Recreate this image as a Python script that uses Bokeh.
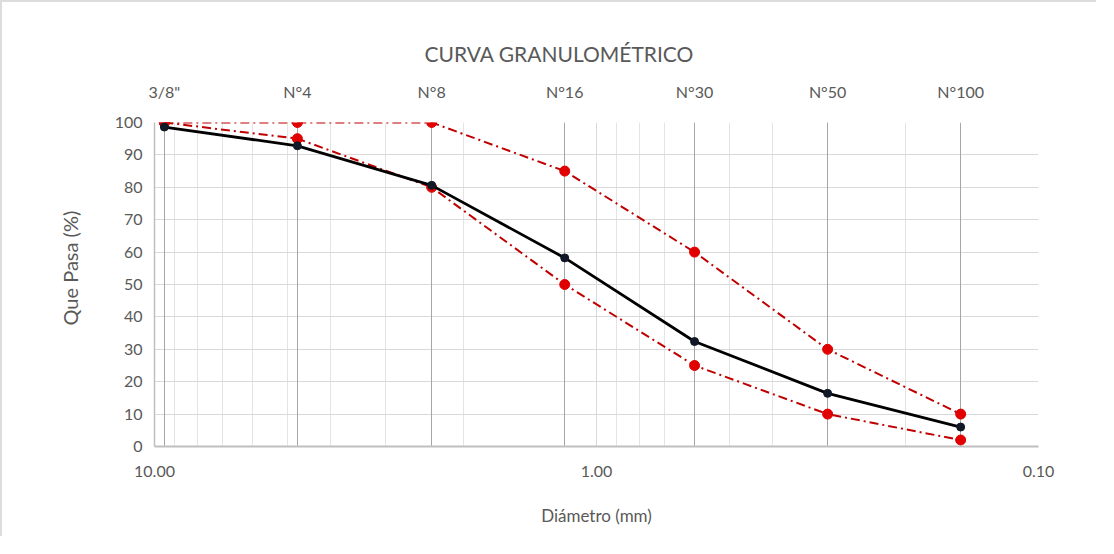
from bokeh.plotting import figure
from bokeh.models import (Range1d, LogAxis, FixedTicker, PrintfTickFormatter,
                          Grid, ColumnDataSource, Title)
from bokeh.embed import file_html
from bokeh.resources import INLINE

# ---- data ----
sieve_labels = ['3/8"', "N°4", "N°8", "N°16", "N°30", "N°50", "N°100"]
sieve_mm = [9.5, 4.75, 2.36, 1.18, 0.6, 0.3, 0.15]
pct_passing = [98.6, 92.8, 80.6, 58.2, 32.4, 16.4, 6.0]
spec_upper = [100, 100, 100, 85, 60, 30, 10]
spec_lower = [100, 95, 80, 50, 25, 10, 2]
x_ticks = [10, 1, 0.1]
y_ticks = list(range(0, 101, 10))

FONT = "Lato"
TXT = "#595959"

minor_x = [m * d for d in (1.0, 0.1) for m in range(2, 10)]

p = figure(width=1096, height=536, x_axis_type="log",
           x_range=Range1d(10, 0.1), y_range=Range1d(0, 100),
           output_backend="svg", toolbar_location=None,
           min_border_left=152, min_border_right=60,
           min_border_top=120, min_border_bottom=92)
p.outline_line_color = None
p.background_fill_color = "white"
p.border_fill_color = "white"
p.styles = {"border-top": "2px solid #dcdcdc", "border-left": "2px solid #dcdcdc"}

p.title.text = "CURVA GRANULOMÉTRICO"
p.title.align = "left"
p.title.offset = 270
p.title.standoff = 26
p.title.text_font = FONT
p.title.text_font_size = "21px"
p.title.text_font_style = "normal"
p.title.text_color = TXT

# bottom axis
xa = p.xaxis[0]
xa.ticker = FixedTicker(ticks=x_ticks, minor_ticks=minor_x)
xa.formatter = PrintfTickFormatter(format="%.2f")
xa.axis_label = "Diámetro (mm)"
xa.major_tick_out = 0
xa.major_tick_in = 0
xa.minor_tick_out = 0
xa.minor_tick_in = 0
xa.axis_line_color = "#bfbfbf"
xa.axis_line_width = 2
xa.major_label_standoff = 19
xa.axis_label_standoff = 25

# left axis (tick labels)
ya = p.yaxis[0]
ya.ticker = FixedTicker(ticks=y_ticks)
ya.major_tick_out = 0
ya.major_tick_in = 0
ya.minor_tick_out = 0
ya.minor_tick_in = 0
ya.axis_line_color = "#bfbfbf"
ya.axis_line_width = 1.5
ya.major_label_standoff = 12

# left axis title, placed like the reference
y_title = Title(text="Que Pasa (%)", align="left", offset=121, standoff=60,
                text_font=FONT, text_font_size="20px",
                text_font_style="normal", text_color=TXT)
p.add_layout(y_title, "left")

# top axis with sieve names
ta = LogAxis(ticker=FixedTicker(ticks=sieve_mm),
             major_label_overrides={v: l for v, l in zip(sieve_mm, sieve_labels)})
ta.major_tick_out = 0
ta.major_tick_in = 0
ta.minor_tick_out = 0
ta.minor_tick_in = 0
ta.axis_line_color = None
ta.major_label_standoff = 22
p.add_layout(ta, "above")

for ax in (xa, ya, ta):
    ax.major_label_text_font = FONT
    ax.major_label_text_font_size = "16px"
    ax.major_label_text_color = TXT
    ax.axis_label_text_font = FONT
    ax.axis_label_text_font_size = "17px"
    ax.axis_label_text_color = TXT
    ax.axis_label_text_font_style = "normal"

# grids
p.xgrid[0].ticker = xa.ticker
p.xgrid[0].grid_line_color = "#d9d9d9"
p.xgrid[0].minor_grid_line_color = "#e4e4e4"
p.ygrid[0].ticker = ya.ticker
p.ygrid[0].grid_line_color = "#d9d9d9"
sieve_grid = Grid(dimension=0, ticker=FixedTicker(ticks=sieve_mm),
                  grid_line_color="#a6a6a6", grid_line_width=1)
p.add_layout(sieve_grid)

src = ColumnDataSource(dict(d=sieve_mm, pct=pct_passing, up=spec_upper, lo=spec_lower))

for col in ("up", "lo"):
    p.line("d", col, source=src, line_color="#C00000", line_width=2,
           line_dash="9 4 2 4")
    p.scatter("d", col, source=src, size=10, fill_color="#E00000",
              line_color="#E00000")

p.line("d", "pct", source=src, line_color="#000000", line_width=2.8)
p.scatter("d", "pct", source=src, size=8, fill_color="#111827",
          line_color="#111827")

open("out.html", "w").write(file_html(p, INLINE))
